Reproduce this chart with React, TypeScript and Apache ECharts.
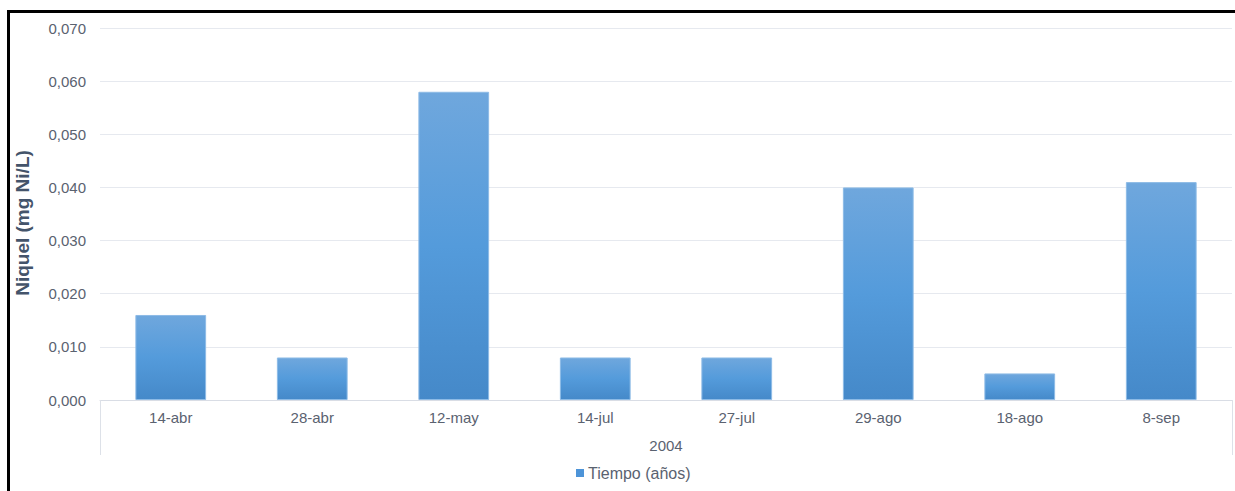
import React, { useEffect, useRef } from "react";
import * as echarts from "echarts";

const categories = ["14-abr", "28-abr", "12-may", "14-jul", "27-jul", "29-ago", "18-ago", "8-sep"];
const groupLabels = ["2004"];
const niquelValues = [0.016, 0.008, 0.058, 0.008, 0.008, 0.04, 0.005, 0.041];
const seriesName = "Tiempo (años)";
const yAxisTitle = "Niquel (mg Ni/L)";

const FONT = "'Liberation Sans', Arial, sans-serif";
const TEXT = "#5a6270";

export default function App() {
  const ref = useRef<HTMLDivElement>(null);
  useEffect(() => {
    if (!ref.current) return;
    const chart = echarts.init(ref.current, null, { renderer: "svg" });
    chart.setOption({
      animation: false,
      backgroundColor: "#ffffff",
      textStyle: { fontFamily: FONT },
      grid: { left: 100, right: 3, top: 28, bottom: 91, containLabel: false },
      legend: {
        data: [seriesName],
        bottom: 5,
        left: 571,
        icon: "rect",
        itemWidth: 8,
        itemHeight: 8,
        itemGap: 6,
        itemStyle: { borderWidth: 0, color: "#4d94d8" },
        textStyle: { color: TEXT, fontSize: 16, fontFamily: FONT, padding: [0, 0, 0, -1] },
      },
      xAxis: [
        {
          type: "category",
          data: categories,
          position: "bottom",
          axisLine: { show: true, lineStyle: { color: "#d9dde5", width: 1 } },
          axisTick: { show: false },
          axisLabel: { color: TEXT, fontSize: 15, margin: 10, fontFamily: FONT },
          splitLine: { show: false },
        },
        {
          type: "category",
          data: groupLabels,
          position: "bottom",
          boundaryGap: true,
          axisLine: { show: false },
          axisTick: { show: true, length: 55, alignWithLabel: false, lineStyle: { color: "#dde1e8" } },
          axisLabel: { color: TEXT, fontSize: 15, margin: 38, fontFamily: FONT },
          splitLine: { show: false },
        },
      ],
      yAxis: {
        type: "value",
        min: 0,
        max: 0.07,
        interval: 0.01,
        name: yAxisTitle,
        nameLocation: "middle",
        nameGap: 68,
        nameTextStyle: {
          color: "#44546a",
          fontSize: 19,
          fontWeight: "bold",
          fontFamily: FONT,
          padding: [0, 18, 0, 0],
        },
        axisLine: { show: false },
        axisTick: { show: false },
        axisLabel: {
          color: TEXT,
          fontSize: 15,
          margin: 14,
          fontFamily: FONT,
          formatter: (v: number) => v.toFixed(3).replace(".", ","),
        },
        splitLine: { lineStyle: { color: "#e6e9ef", width: 1 } },
      },
      series: [
        {
          name: seriesName,
          type: "bar",
          xAxisIndex: 0,
          data: niquelValues,
          barWidth: "50%",
          itemStyle: {
            color: new echarts.graphic.LinearGradient(0, 0, 0, 1, [
              { offset: 0, color: "#6fa7dd" },
              { offset: 0.5, color: "#549bdb" },
              { offset: 1, color: "#4589c9" },
            ]),
            borderColor: "#8dbbe6",
            borderWidth: 1,
          },
        },
      ],
    });
    return () => chart.dispose();
  }, []);

  return (
    <div style={{ position: "absolute", left: 0, top: 0, width: 1235, height: 491, background: "#fff", overflow: "hidden" }}>
      <div ref={ref} style={{ position: "absolute", left: 0, top: 0, width: 1235, height: 491 }} />
      <div
        style={{
          position: "absolute",
          left: 7,
          top: 10,
          width: 1300,
          height: 600,
          borderLeft: "3px solid #000",
          borderTop: "3px solid #000",
          pointerEvents: "none",
        }}
      />
    </div>
  );
}
